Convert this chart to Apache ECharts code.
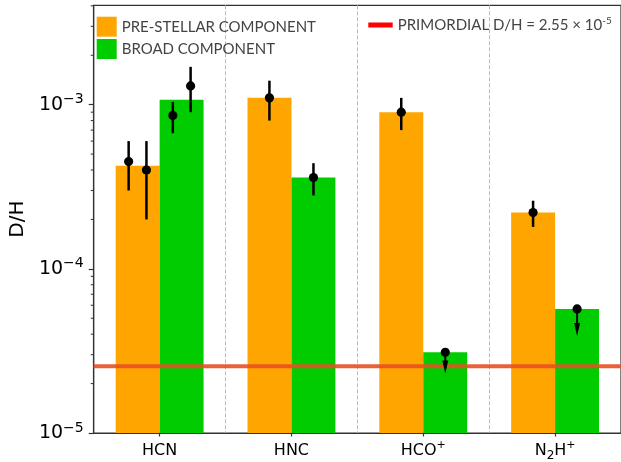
<!DOCTYPE html>
<html><head><meta charset="utf-8">
<script src="https://cdn.jsdelivr.net/npm/echarts@6/dist/echarts.min.js"></script>
<style>html,body{margin:0;padding:0;background:#fff}#c{width:621px;height:462px}</style>
</head><body><div id="c"></div>
<script>
// ---- data ----
const categories = ['HCN', 'HNC', 'HCO+', 'N2H+'];
const categoryLabels = ['{n|HCN}', '{n|HNC}', '{n|HCO}{p|+}', '{n|N}{b|2}{n|H}{p|+}'];
const preStellar = [4.25e-4, 1.10e-3, 9.0e-4, 2.2e-4];
const broad = [1.07e-3, 3.6e-4, 3.1e-5, 5.7e-5];
const pointX = [-0.235, -0.1, 0.1, 0.235, 0.833, 1.167, 1.833, 2.167, 2.833, 3.167];
const pointY = [4.5e-4, 4.0e-4, 8.6e-4, 1.3e-3, 1.1e-3, 3.6e-4, 9.0e-4, 3.1e-5, 2.2e-4, 5.7e-5];
const pointLo = [3.0e-4, 2.0e-4, 6.7e-4, 9.0e-4, 8.0e-4, 2.8e-4, 7.0e-4, 2.3e-5, 1.8e-4, 3.9e-5];
const pointHi = [6.0e-4, 6.0e-4, 1.04e-3, 1.7e-3, 1.4e-3, 4.4e-4, 1.1e-3, null, 2.6e-4, null];
const upperLimit = [0, 0, 0, 0, 0, 0, 0, 1, 0, 1];
const primordialDH = 2.55e-5;
const yTickExponents = [-5, -4, -3];
const yMin = 1e-5, yMax = 4.03e-3;

const nameA = 'PRE-STELLAR COMPONENT';
const nameB = 'BROAD COMPONENT';
const nameP = 'PRIMORDIAL';

// minor log ticks (axis decoration)
const minorTicks = [];
yTickExponents.forEach(e => { for (let k = 2; k <= 9; k++) { const v = k * Math.pow(10, e); if (v <= yMax) minorTicks.push([0, v]); } });

const chart = echarts.init(document.getElementById('c'), null, {renderer: 'canvas'});

function barRender(side) {
  return function (params, api) {
    const i = api.value(0), v = api.value(1);
    const x0 = side < 0 ? i - 1 / 3 : i, x1 = side < 0 ? i : i + 1 / 3;
    const p0 = api.coord([x0, v]);
    const p1 = api.coord([x1, yMin]);
    return {type: 'rect', shape: {x: p0[0], y: p0[1], width: p1[0] - p0[0], height: p1[1] - p0[1]},
      style: {fill: api.visual('color')}};
  };
}

function pointRender(params, api) {
  const x = api.value(0), y = api.value(1), lo = api.value(2), hi = api.value(3), ul = api.value(4);
  const c = api.coord([x, y]);
  const children = [];
  if (ul) {
    const tip = api.coord([x, lo]);
    const headLen = 13, headW = 3;
    children.push({type: 'line', shape: {x1: c[0], y1: c[1], x2: c[0], y2: tip[1] - headLen + 1},
      style: {stroke: '#000', lineWidth: 2}});
    children.push({type: 'polygon', shape: {points: [[c[0] - headW, tip[1] - headLen], [c[0] + headW, tip[1] - headLen], [c[0], tip[1]]]},
      style: {fill: '#000'}});
  } else {
    const a = api.coord([x, hi]), b = api.coord([x, lo]);
    children.push({type: 'line', shape: {x1: c[0], y1: a[1], x2: c[0], y2: b[1]},
      style: {stroke: '#000', lineWidth: 2.5}});
  }
  children.push({type: 'circle', shape: {cx: c[0], cy: c[1], r: 4.6}, style: {fill: '#000'}});
  return {type: 'group', children: children};
}

const option = {
  animation: false,
  backgroundColor: '#fff',
  grid: {left: 90.7, top: 5.3, right: -2.6, bottom: 28.7, show: true, borderColor: '#333', borderWidth: 1.2, backgroundColor: 'transparent'},
  legend: [
    {
      data: [nameA, nameB], orient: 'vertical', left: 96.7, top: 16.7, padding: 0,
      itemWidth: 20, itemHeight: 20, itemGap: 2.3, icon: 'rect', selectedMode: false,
      textStyle: {fontFamily: 'Lato', fontSize: 15, color: '#444'}
    },
    {
      data: [{name: nameP, itemStyle: {color: '#ff0000'}}], left: 368.3, top: 16, padding: 0,
      itemWidth: 24.4, itemHeight: 5, icon: 'rect', selectedMode: false,
      formatter: () => '{a|PRIMORDIAL D/H = 2.55 × 10}{s|-5}',
      textStyle: {fontFamily: 'Lato', fontSize: 15, color: '#444', lineHeight: 18,
        rich: {a: {fontFamily: 'Lato', fontSize: 15, color: '#444', lineHeight: 18},
               s: {fontFamily: 'Lato', fontSize: 10, color: '#444', lineHeight: 10, verticalAlign: 'top'}}}
    }
  ],
  xAxis: [
    {
      type: 'category', data: categories, boundaryGap: true, position: 'bottom',
      axisLine: {show: true, onZero: false, lineStyle: {color: '#333', width: 1.2}},
      axisTick: {show: true, interval: 0, alignWithLabel: true, length: 3.5, lineStyle: {color: '#333', width: 1.2}},
      splitLine: {show: false},
      axisLabel: {
        margin: 7, interval: 0,
        formatter: (v) => categoryLabels[categories.indexOf(v)],
        rich: {
          n: {fontFamily: 'DejaVu Sans', fontSize: 16, color: '#000', lineHeight: 22},
          p: {fontFamily: 'DejaVu Sans', fontSize: 11, color: '#000', lineHeight: 11, verticalAlign: 'top'},
          b: {fontFamily: 'DejaVu Sans', fontSize: 12, color: '#000', lineHeight: 12, verticalAlign: 'bottom'}
        }
      }
    },
    {
      type: 'value', min: -0.5, max: 3.5, interval: 1, position: 'bottom',
      axisLine: {show: false, onZero: false}, axisTick: {show: false}, axisLabel: {show: false},
      splitLine: {show: true, lineStyle: {color: '#bbbbbb', width: 1, type: [4, 2]}}
    }
  ],
  yAxis: {
    type: 'log', logBase: 10, min: yMin, max: yMax,
    name: 'D/H', nameLocation: 'middle', nameGap: 62,
    nameTextStyle: {fontFamily: 'DejaVu Sans', fontSize: 20, color: '#000'},
    axisLine: {show: true, onZero: false, lineStyle: {color: '#333', width: 1.2}},
    axisTick: {show: true, length: 5, lineStyle: {color: '#333', width: 1.2}},
    splitLine: {show: false},
    axisLabel: {
      margin: 10, showMaxLabel: false,
      formatter: v => {
        const e = Math.log10(v), r = Math.round(e);
        if (Math.abs(e - r) > 1e-6 || yTickExponents.indexOf(r) < 0) return '';
        return '{b|10}{s|\u2212' + (-r) + '}';
      },
      rich: {
        b: {fontFamily: 'DejaVu Sans', fontSize: 19, color: '#000', lineHeight: 24},
        s: {fontFamily: 'DejaVu Sans', fontSize: 14, color: '#000', lineHeight: 14, verticalAlign: 'top'}
      }
    }
  },
  series: [
    {name: nameA, type: 'custom', xAxisIndex: 1, yAxisIndex: 0, z: 2, itemStyle: {color: '#FFA500'},
      renderItem: barRender(-1), encode: {x: 0, y: 1}, data: preStellar.map((v, i) => [i, v])},
    {name: nameB, type: 'custom', xAxisIndex: 1, yAxisIndex: 0, z: 2, itemStyle: {color: '#00CC00'},
      renderItem: barRender(1), encode: {x: 0, y: 1}, data: broad.map((v, i) => [i, v])},
    {name: nameP, type: 'custom', xAxisIndex: 1, yAxisIndex: 0, z: 4, itemStyle: {color: 'rgba(232,80,35,0.9)'},
      encode: {x: 0, y: 1}, data: [[0, primordialDH]],
      renderItem: (params, api) => {
        const cs = params.coordSys; const y = api.coord([0, api.value(1)])[1];
        return {type: 'line', shape: {x1: cs.x, y1: y, x2: cs.x + cs.width, y2: y},
          style: {stroke: api.visual('color'), lineWidth: 4}};
      }},
    {name: 'points', type: 'custom', xAxisIndex: 1, yAxisIndex: 0, z: 6, silent: true,
      encode: {x: 0, y: 1},
      data: pointX.map((x, i) => [x, pointY[i], pointLo[i], pointHi[i] == null ? pointY[i] : pointHi[i], upperLimit[i]]),
      renderItem: pointRender},
    {name: 'minorTicks', type: 'custom', xAxisIndex: 1, yAxisIndex: 0, z: 6, silent: true, clip: false,
      encode: {x: 0, y: 1}, data: minorTicks,
      renderItem: (params, api) => {
        const cs = params.coordSys; const y = api.coord([0, api.value(1)])[1];
        return {type: 'line', shape: {x1: cs.x - 3, y1: y, x2: cs.x, y2: y}, style: {stroke: '#333', lineWidth: 1}};
      }}
  ]
};
chart.setOption(option);
</script>
</body></html>
